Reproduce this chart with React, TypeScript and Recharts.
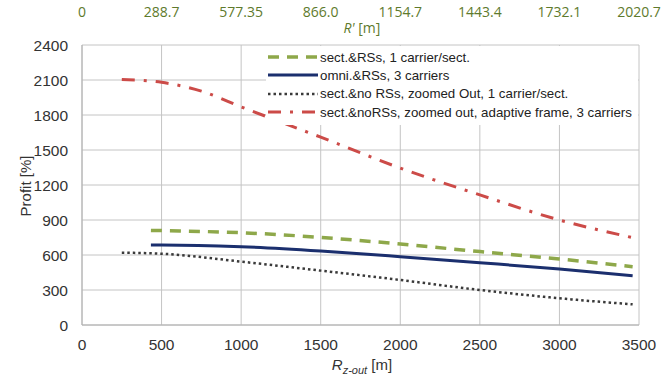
import React from "react";
import { LineChart, Line, XAxis, YAxis, CartesianGrid } from "recharts";

// x axis (R_z-out) ticks and the matching R' labels on the top axis
const xTicks = [0, 500, 1000, 1500, 2000, 2500, 3000, 3500];
const topTickLabels = ["0", "288.7", "577.35", "866.0", "1154.7", "1443.4", "1732.1", "2020.7"];
const yTicks = [0, 300, 600, 900, 1200, 1500, 1800, 2100, 2400];

// sect.&RSs, 1 carrier/sect.
const sectRssX = [433, 500, 1000, 1500, 2000, 2500, 3000, 3460];
const sectRssY = [811, 809, 791, 751, 694, 629, 566, 500];
// omni.&RSs, 3 carriers
const omniX = [433, 500, 1000, 1500, 2000, 2500, 3000, 3460];
const omniY = [686, 686, 671, 634, 586, 534, 480, 423];
// sect.&no RSs, zoomed Out, 1 carrier/sect.
const noRssX = [250, 500, 1000, 1500, 2000, 2500, 3000, 3460];
const noRssY = [620, 611, 543, 466, 386, 300, 229, 177];
// sect.&noRSs, zoomed out, adaptive frame, 3 carriers
const adaptiveX = [250, 500, 750, 1000, 1500, 2000, 2500, 3000, 3500];
const adaptiveY = [2105, 2080, 2005, 1870, 1610, 1345, 1115, 900, 737];

const zip = (xs: number[], ys: number[]) => xs.map((x, i) => ({ x, y: ys[i] }));

// the last series is bound to the top axis (same domain) so that axis gets drawn
const series = [
  { name: "sect.&RSs, 1 carrier/sect.", data: zip(sectRssX, sectRssY), color: "#8ea84a", width: 3.5, dash: "11 8", axis: 0 },
  { name: "omni.&RSs, 3 carriers", data: zip(omniX, omniY), color: "#1b2f6e", width: 3, dash: undefined, axis: 0 },
  { name: "sect.&no RSs, zoomed Out, 1 carrier/sect.", data: zip(noRssX, noRssY), color: "#3a3a3a", width: 2.5, dash: "2.5 3", axis: 0 },
  { name: "sect.&noRSs, zoomed out, adaptive frame, 3 carriers", data: zip(adaptiveX, adaptiveY), color: "#cc4b48", width: 3, dash: "13 9 3 9", axis: "top" },
];

const FONT = "'Liberation Sans', Arial, sans-serif";
const TOP_COLOR = "#5e7a2c";

function LegendBox() {
  return (
    <div
      style={{
        position: "absolute",
        left: 266,
        top: 46,
        width: 372,
        background: "#fff",
        padding: "2px 0 4px 0",
        fontFamily: FONT,
        fontSize: 13.3,
        color: "#222",
      }}
    >
      {series.map((s) => (
        <div key={s.name} style={{ display: "flex", alignItems: "center", height: 18.3, whiteSpace: "nowrap" }}>
          <svg width={52} height={10} style={{ marginRight: 2, flexShrink: 0 }}>
            <line x1={2} y1={5} x2={52} y2={5} stroke={s.color} strokeWidth={s.width} strokeDasharray={s.dash} />
          </svg>
          <span>{s.name}</span>
        </div>
      ))}
    </div>
  );
}

export default function App() {
  return (
    <div style={{ position: "absolute", left: 0, top: 0, width: 667, height: 376, background: "#fff" }}>
      <LineChart width={667} height={376} margin={{ top: 0, right: 28, bottom: 0, left: 0 }}>
        <CartesianGrid stroke="#c4c4c4" strokeWidth={1} />
        <XAxis
          dataKey="x"
          type="number"
          domain={[0, 3500]}
          ticks={xTicks}
          height={51}
          stroke="#b0b0b0"
          tickLine={false}
          allowDataOverflow
          tick={({ x, payload }: any) => (
            <text x={x} y={350} textAnchor="middle" fontFamily={FONT} fontSize={15.5} fill="#333">
              {payload.value}
            </text>
          )}
          label={() => (
            <text x={362} y={370} textAnchor="middle" fontFamily={FONT} fontSize={15} fill="#333">
              <tspan fontStyle="italic">R</tspan>
              <tspan fontStyle="italic" fontSize={11} dy={4}>z-out</tspan>
              <tspan dy={-4}> [m]</tspan>
            </text>
          )}
        />
        <XAxis
          xAxisId="top"
          dataKey="x"
          orientation="top"
          type="number"
          domain={[0, 3500]}
          ticks={xTicks}
          height={45}
          axisLine={false}
          tickLine={false}
          allowDataOverflow
          tick={({ x, index }: any) => (
            <text x={x} y={17} textAnchor="middle" fontFamily="'Open Sans', sans-serif" fontSize={14} fill={TOP_COLOR}>
              {topTickLabels[index]}
            </text>
          )}
          label={() => (
            <text x={362} y={33} textAnchor="middle" fontFamily="'Open Sans', sans-serif" fontSize={14} fill={TOP_COLOR}>
              <tspan fontStyle="italic">R'</tspan>
              <tspan> [m]</tspan>
            </text>
          )}
        />
        <YAxis
          type="number"
          domain={[0, 2400]}
          ticks={yTicks}
          width={82}
          stroke="#b0b0b0"
          tickLine={false}
          tick={({ y, payload }: any) => (
            <text x={68} y={y} dy={5.5} textAnchor="end" fontFamily={FONT} fontSize={15.5} fill="#333">
              {payload.value}
            </text>
          )}
          label={() => (
            <text x={0} y={0} transform="translate(31,186) rotate(-90)" textAnchor="middle" fontFamily={FONT} fontSize={15} fill="#333">
              Profit [%]
            </text>
          )}
        />
        {series.map((s) => (
          <Line
            key={s.name}
            xAxisId={s.axis}
            data={s.data}
            dataKey="y"
            name={s.name}
            type="monotone"
            stroke={s.color}
            strokeWidth={s.width}
            strokeDasharray={s.dash}
            dot={false}
            isAnimationActive={false}
          />
        ))}
      </LineChart>
      <LegendBox />
    </div>
  );
}
